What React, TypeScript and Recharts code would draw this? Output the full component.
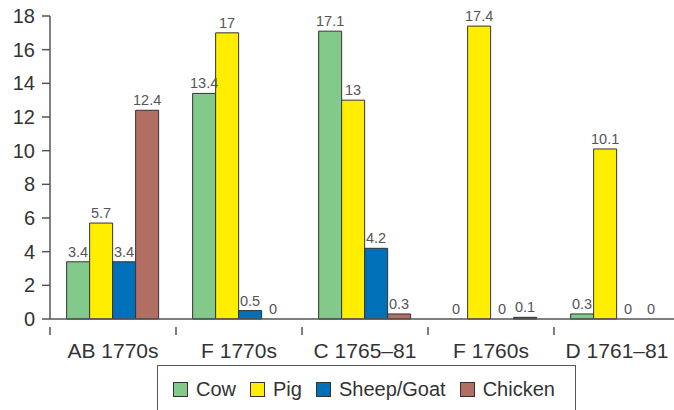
import { BarChart, Bar, XAxis, YAxis, LabelList, Legend, Cell } from 'recharts';

const categories = ['AB 1770s', 'F 1770s', 'C 1765\u201381', 'F 1760s', 'D 1761\u201381'];
const cow = [3.4, 13.4, 17.1, 0, 0.3];
const pig = [5.7, 17, 13, 17.4, 10.1];
const sheepGoat = [3.4, 0.5, 4.2, 0, 0];
const chicken = [12.4, 0, 0.3, 0.1, 0];
const yTicks = [0, 2, 4, 6, 8, 10, 12, 14, 16, 18];

const series = [
  { key: 'cow', name: 'Cow', color: '#82c98a', values: cow },
  { key: 'pig', name: 'Pig', color: '#ffee00', values: pig },
  { key: 'sheepGoat', name: 'Sheep/Goat', color: '#0070b8', values: sheepGoat },
  { key: 'chicken', name: 'Chicken', color: '#b36e63', values: chicken },
];

const data = categories.map((name, i) => ({
  name,
  cow: cow[i],
  pig: pig[i],
  sheepGoat: sheepGoat[i],
  chicken: chicken[i],
}));

const FONT = '"Liberation Sans", Arial, sans-serif';
const AXIS = '#555';
const BAND = 630 / categories.length;

// the tiny 0.1 chicken bar in F 1760s is drawn dark blue in the source
const cellFill = (key: string, color: string, i: number) =>
  key === 'chicken' && i === 3 ? '#1f4f7a' : color;

const CategoryTick = (props: any) => {
  const { x, y, payload } = props;
  return (
    <g>
      <line x1={x - BAND / 2} y1={y} x2={x - BAND / 2} y2={y + 8} stroke={AXIS} strokeWidth={1.5} />
      <text x={x} y={y + 31} textAnchor="middle" fontSize={21} fill="#333" fontFamily={FONT}>
        {payload.value}
      </text>
    </g>
  );
};

const LegendBox = () => (
  <div
    style={{
      border: `1px solid ${AXIS}`,
      height: 60,
      boxSizing: 'border-box',
      display: 'flex',
      alignItems: 'flex-start',
      paddingTop: 15,
      paddingLeft: 15,
      fontFamily: FONT,
      fontSize: 20,
      color: '#333',
    }}
  >
    {series.map((s) => (
      <div key={s.key} style={{ display: 'flex', alignItems: 'center', marginRight: 14 }}>
        <span
          style={{
            display: 'inline-block',
            width: 13,
            height: 13,
            background: s.color,
            border: '1px solid #333',
            marginRight: 8,
          }}
        />
        <span style={{ lineHeight: '16px' }}>{s.name}</span>
      </div>
    ))}
  </div>
);

export default function App() {
  return (
    <div style={{ position: 'absolute', left: 0, top: 0, width: 674, height: 410, background: '#fff', overflow: 'hidden' }}>
      <BarChart
        width={674}
        height={410}
        data={data}
        margin={{ top: 16, right: -6, left: 0, bottom: 61 }}
        barCategoryGap="13.2%"
        barGap={0}
      >
        <XAxis
          dataKey="name"
          height={30}
          tickLine={false}
          axisLine={{ stroke: AXIS, strokeWidth: 1.5 }}
          tick={<CategoryTick />}
          interval={0}
        />
        <YAxis
          width={50}
          domain={[0, 18]}
          ticks={yTicks}
          interval={0}
          tickSize={8}
          tickMargin={7}
          tickLine={{ stroke: AXIS, strokeWidth: 1.5 }}
          axisLine={{ stroke: AXIS, strokeWidth: 1.5 }}
          tick={{ fontSize: 20, fill: '#333', fontFamily: FONT }}
        />
        <Legend
          layout="horizontal"
          verticalAlign="middle"
          align="center"
          wrapperStyle={{ position: 'absolute', left: 157, top: 365, width: 419, height: 60 }}
          content={() => <LegendBox />}
        />
        {series.map((s) => (
          <Bar
            key={s.key}
            dataKey={s.key}
            name={s.name}
            fill={s.color}
            stroke="#333"
            strokeWidth={1}
            minPointSize={(v: number) => (v === 0 ? 0.01 : 0)}
            isAnimationActive={false}
          >
            {s.values.map((v, i) => (
              <Cell key={i} fill={cellFill(s.key, s.color, i)} stroke={v === 0 ? 'none' : '#333'} />
            ))}
            <LabelList dataKey={s.key} position="top" offset={5} fontSize={14.5} fill="#555" fontFamily={FONT} />
          </Bar>
        ))}
      </BarChart>
    </div>
  );
}
